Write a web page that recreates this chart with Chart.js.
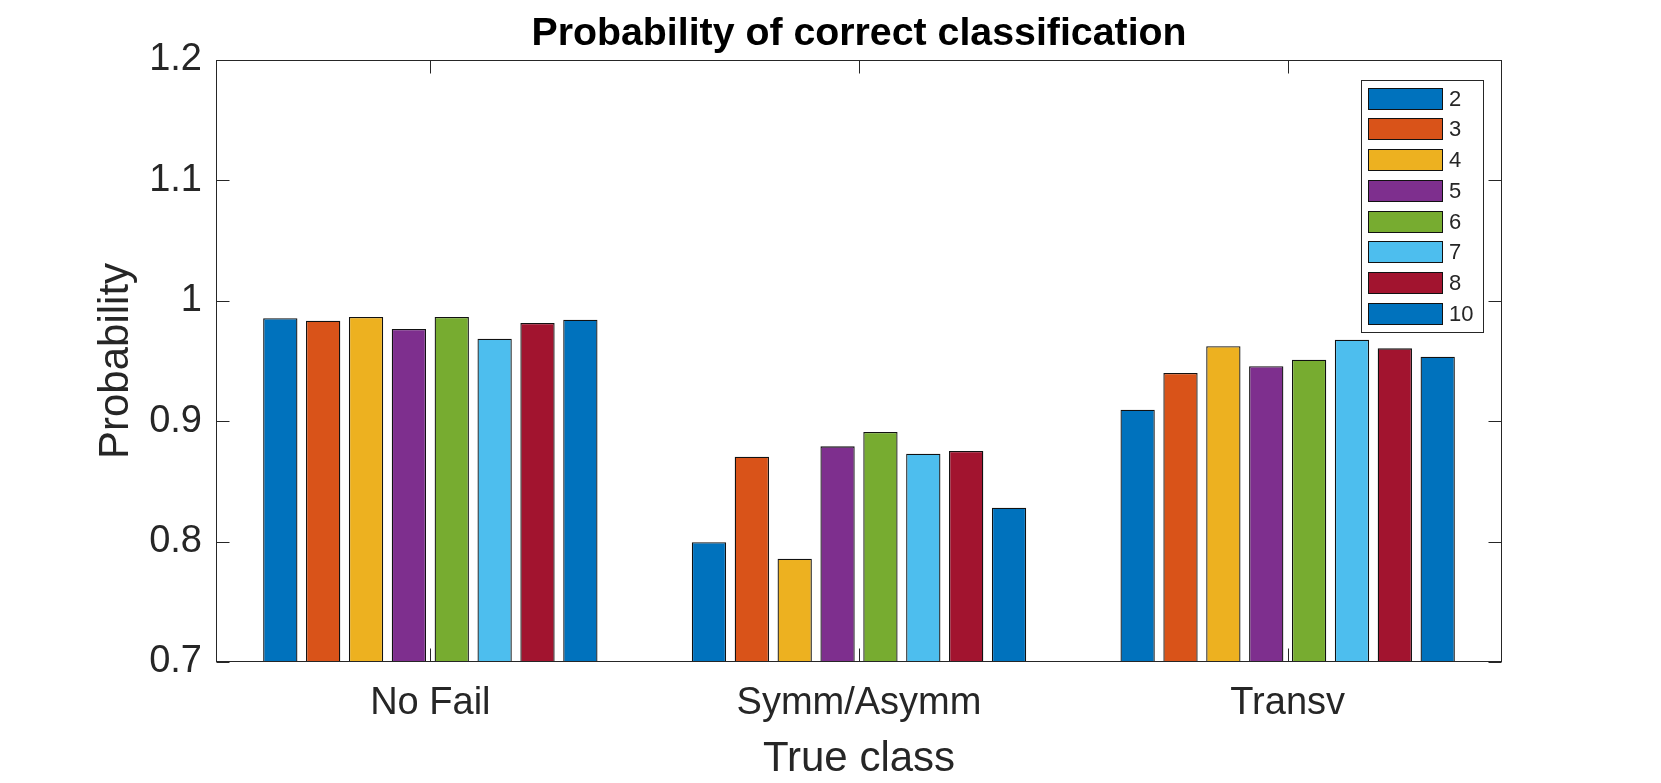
<!DOCTYPE html>
<html><head><meta charset="utf-8">
<script src="https://cdn.jsdelivr.net/npm/chart.js@4/dist/chart.umd.min.js"></script>
<style>html,body{margin:0;padding:0;background:#fff;overflow:hidden}canvas{display:block}</style>
</head><body>
<canvas id="c" width="1661" height="783"></canvas>
<script>
const categories = ['No Fail', 'Symm/Asymm', 'Transv'];
const seriesLabels = ['2', '3', '4', '5', '6', '7', '8', '10'];
const s2  = [0.9855, 0.7994, 0.9096];
const s3  = [0.9835, 0.8705, 0.9400];
const s4  = [0.9866, 0.7858, 0.9622];
const s5  = [0.9766, 0.8791, 0.9456];
const s6  = [0.9866, 0.8910, 0.9511];
const s7  = [0.9685, 0.8730, 0.9677];
const s8  = [0.9816, 0.8752, 0.9605];
const s10 = [0.9843, 0.8282, 0.9536];
const seriesValues = [s2, s3, s4, s5, s6, s7, s8, s10];
const seriesColors = ['#0072BD', '#D95319', '#EDB120', '#7E2F8E', '#77AC30', '#4DBEEE', '#A2142F', '#0072BD'];
const yTickLabels = ['0.7', '0.8', '0.9', '1', '1.1', '1.2'];
const titleText = 'Probability of correct classification';
const xTitle = 'True class';
const yTitle = 'Probability';

const F = '"Liberation Sans", Arial, Helvetica, sans-serif';

function measure(font, txt) {
  const c = document.createElement('canvas').getContext('2d');
  c.font = font; return c.measureText(txt).width;
}
let titleFamily = F;
const wMono = measure('bold 40px monospace', titleText);
const wNarrow = measure('bold 40px "Liberation Sans Narrow", monospace', titleText);
if (Math.abs(wMono - wNarrow) > 1) titleFamily = '"Liberation Sans Narrow", ' + F;
const wTitle1 = measure('bold 40px ' + titleFamily, titleText) / 40;
const titleSize = Math.round(655 / wTitle1 * 10) / 10;
const titleTop = Math.max(0, 33.7 - titleSize / 2);
const titleBottom = Math.max(0, 60 - titleSize - titleTop);

const framePlugin = {
  id: 'frame',
  afterDatasetsDraw(chart) {
    const {ctx, chartArea: a, scales: {x, y}} = chart;
    ctx.save();
    ctx.strokeStyle = '#262626';
    ctx.lineWidth = 1;
    const L = Math.round(a.left) + 0.5, R = Math.round(a.right) - 0.5;
    const T = Math.round(a.top) + 0.5, B = Math.round(a.bottom) - 0.5;
    ctx.strokeRect(L, T, R - L, B - T);
    const tl = 13;
    ctx.beginPath();
    y.ticks.forEach(t => {
      const py = Math.round(y.getPixelForValue(t.value)) + 0.5;
      ctx.moveTo(L, py); ctx.lineTo(L + tl, py);
      ctx.moveTo(R, py); ctx.lineTo(R - tl, py);
    });
    x.ticks.forEach((t, i) => {
      const px = Math.round(x.getPixelForTick(i)) + 0.5;
      ctx.moveTo(px, B); ctx.lineTo(px, B - tl);
      ctx.moveTo(px, T); ctx.lineTo(px, T + tl);
    });
    ctx.stroke();
    ctx.restore();
  }
};

const legendPlugin = {
  id: 'boxLegend',
  afterDraw(chart) {
    const {ctx, chartArea: a} = chart;
    const ds = chart.data.datasets;
    const boxW = 122, boxH = 252, pitch = 30.7, swW = 75, swH = 22;
    const bx = Math.round(a.right - 19 - boxW), by = Math.round(a.top + 20);
    ctx.save();
    ctx.fillStyle = '#fff';
    ctx.fillRect(bx, by, boxW, boxH);
    ctx.strokeStyle = '#262626';
    ctx.lineWidth = 1;
    ctx.strokeRect(bx + 0.5, by + 0.5, boxW, boxH);
    ctx.font = '22px ' + F;
    ctx.textBaseline = 'middle';
    ctx.textAlign = 'left';
    ds.forEach((d, i) => {
      const sy = Math.round(by + 7.7 + i * pitch);
      ctx.fillStyle = d.backgroundColor;
      ctx.fillRect(bx + 7, sy, swW, swH);
      ctx.strokeStyle = '#111';
      ctx.strokeRect(bx + 7.5, sy + 0.5, swW - 1, swH - 1);
      ctx.fillStyle = '#262626';
      ctx.fillText(d.label, bx + 88, sy + swH / 2 + 1);
    });
    ctx.restore();
  }
};

new Chart(document.getElementById('c'), {
  type: 'bar',
  data: {
    labels: categories,
    datasets: seriesLabels.map((l, i) => ({
      label: l,
      data: seriesValues[i],
      backgroundColor: seriesColors[i],
      borderColor: '#111',
      borderWidth: 1.3,
      categoryPercentage: 0.8,
      barPercentage: 0.8
    }))
  },
  options: {
    responsive: false,
    animation: false,
    devicePixelRatio: 1,
    layout: {padding: {left: 0, right: 159, top: 0, bottom: 0}},
    plugins: {
      legend: {display: false},
      tooltip: {enabled: false},
      title: {
        display: true, text: titleText, color: '#000', fullSize: false,
        font: {family: titleFamily, size: titleSize, weight: 'bold', lineHeight: 1},
        padding: {top: titleTop, bottom: titleBottom}
      }
    },
    scales: {
      x: {
        grid: {display: false, drawTicks: false},
        border: {display: false},
        ticks: {color: '#262626', font: {family: F, size: 38}, padding: 19, maxRotation: 0, autoSkip: false},
        title: {display: true, text: xTitle, color: '#262626', font: {family: F, size: 42}, padding: {top: 0, bottom: -2}},
        afterFit(s) { s.height = 121; }
      },
      y: {
        min: 0.7, max: 1.2,
        grid: {display: false, drawTicks: false},
        border: {display: false},
        ticks: {
          stepSize: 0.1, color: '#262626', font: {family: F, size: 38}, padding: 14,
          callback: (v) => {
            const m = yTickLabels.find(s => Math.abs(parseFloat(s) - v) < 1e-6);
            return m === undefined ? '' : m;
          }
        },
        title: {display: true, text: yTitle, color: '#262626', font: {family: F, size: 42}, padding: {top: 91, bottom: 0}},
        afterFit(s) { s.width = 216; }
      }
    }
  },
  plugins: [framePlugin, legendPlugin]
});
</script>
</body></html>
